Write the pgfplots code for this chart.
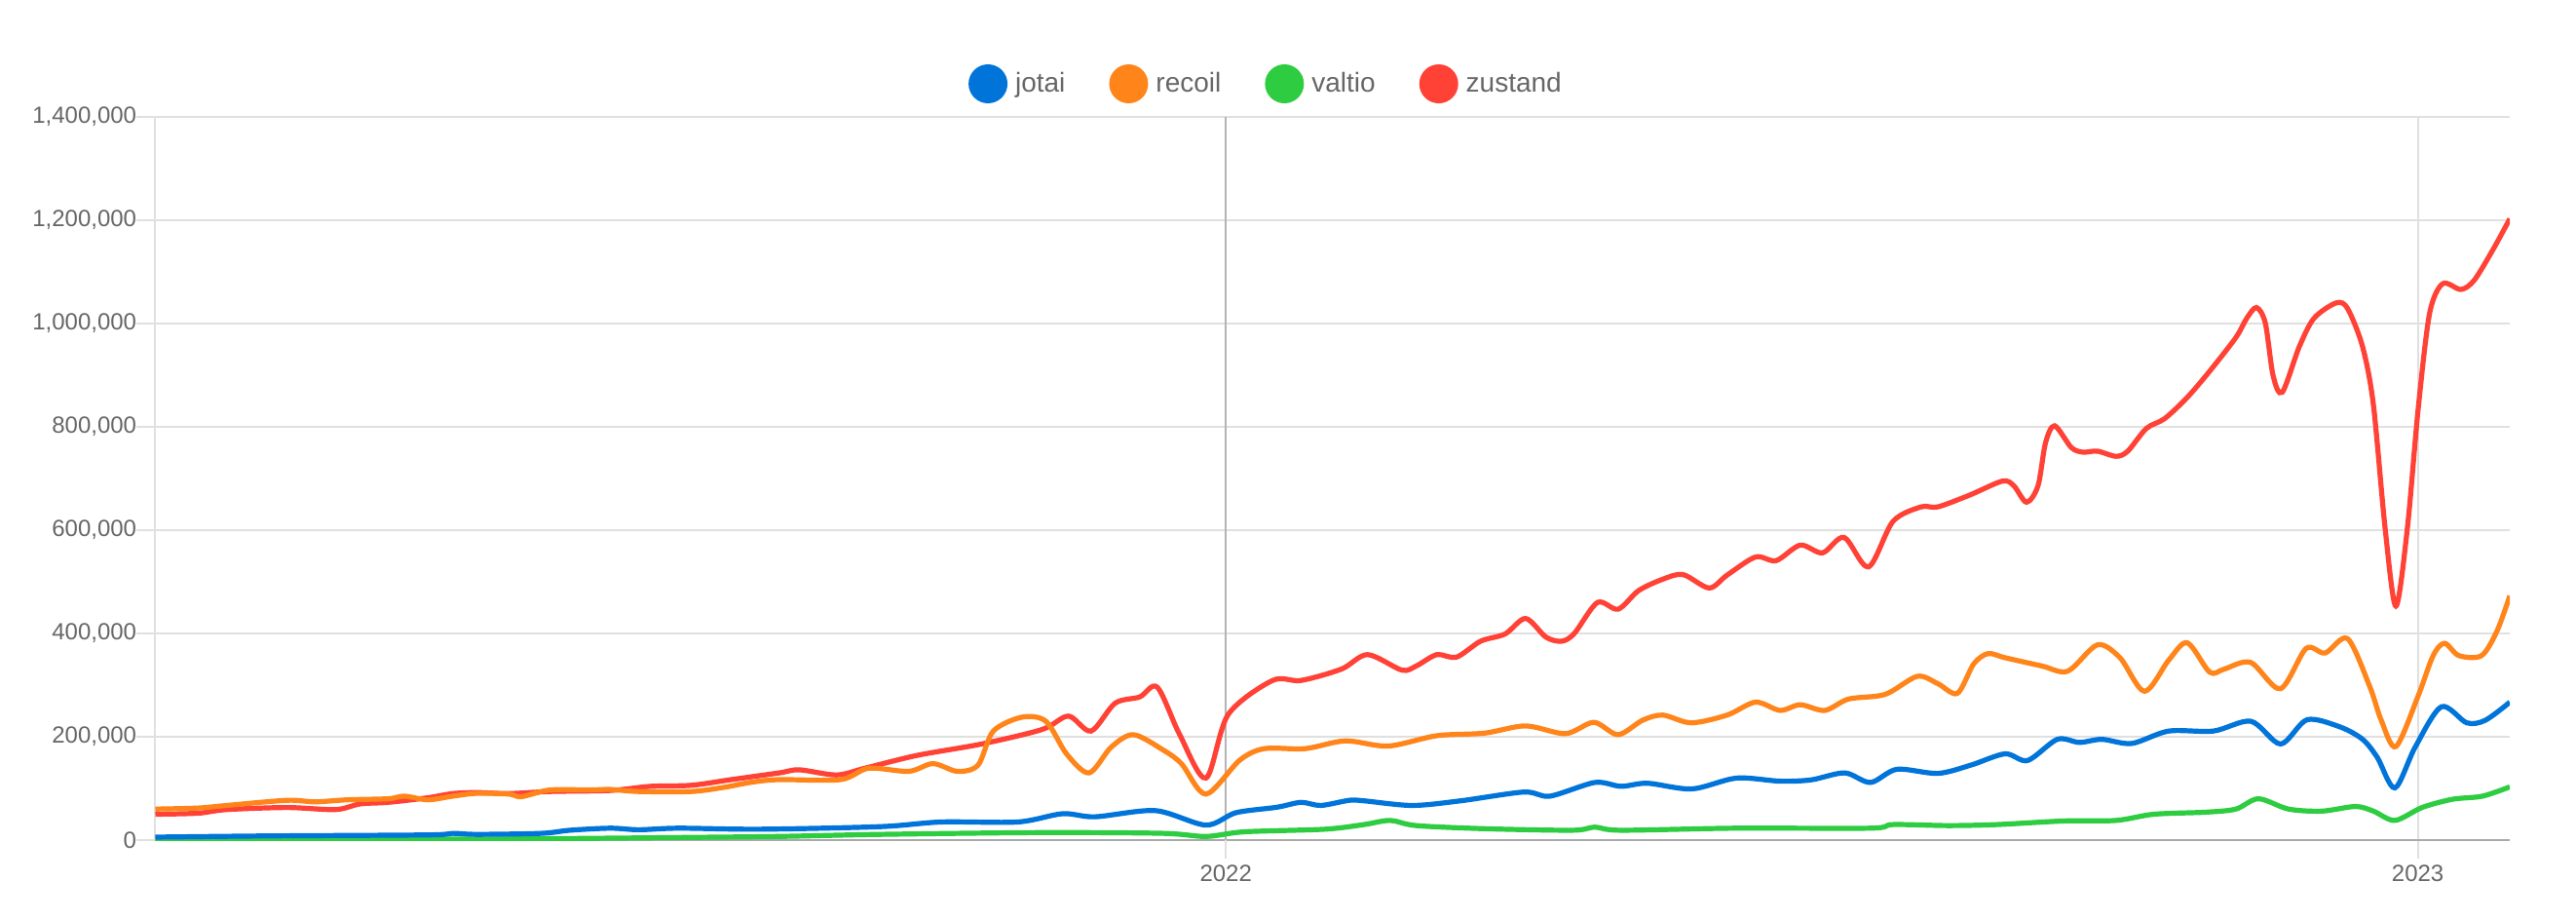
\documentclass[border=0pt]{standalone}
\usepackage{fontspec}
\setmainfont{Liberation Sans}
\usepackage{pgfplots}
\pgfplotsset{compat=1.18}
\definecolor{jblue}{HTML}{0074D9}
\definecolor{rorange}{HTML}{FF851B}
\definecolor{vgreen}{HTML}{2ECC40}
\definecolor{zred}{HTML}{FF4136}
\definecolor{gridc}{HTML}{E0E0E0}
\definecolor{zeroc}{HTML}{AAAAAA}
\definecolor{txt}{HTML}{666666}
\definecolor{linetw}{HTML}{B4B4B4}
\begin{document}
\begin{tikzpicture}
\useasboundingbox (-79.75pt,-40pt) rectangle (1242.25pt,431pt);
\begin{axis}[
  at={(0pt,0pt)}, anchor=south west,
  scale only axis, width=1208.25pt, height=371pt,
  xmin=-327.8, xmax=393.2, ymin=0, ymax=1400,
  axis lines*=left, axis line style={-},
  x axis line style={draw=zeroc, line width=1.2pt},
  y axis line style={draw=gridc, line width=1pt},
  xtick={365}, xticklabels={2023},
  extra x ticks={0}, extra x tick labels={2022},
  extra x tick style={grid style={draw=linetw, line width=1pt}},
  ytick={0,200,...,1400},
  yticklabels={0,{200,000},{400,000},{600,000},{800,000},{1,000,000},{1,200,000},{1,400,000}},
  grid=major, grid style={draw=gridc, line width=1pt},
  tick align=outside, major tick length=9.5pt,
  tick style={draw=gridc, line width=1pt},
  ticklabel style={font=\fontsize{12pt}{14pt}\selectfont, text=txt},
  yticklabel style={inner sep=0pt},
  xticklabel style={inner sep=0pt, yshift=-3pt},
  legend columns=4,
  legend style={at={(0.4713,1.0458)}, anchor=center, draw=none, fill=none,
    inner sep=0pt, font=\fontsize{14pt}{16pt}\selectfont, text=txt,
    nodes={inner sep=0pt},
    /tikz/every odd column/.append style={column sep=4pt},
    /tikz/every even column/.append style={column sep=22.5pt}},
  legend image code/.code={\fill[#1, draw=none] (0pt,0pt) circle (10pt);},
  every axis plot/.append style={line width=2.6pt, smooth, tension=0.5, mark=none},
]
\addlegendimage{color=jblue}\addlegendentry{jotai}
\addlegendimage{color=rorange}\addlegendentry{recoil}
\addlegendimage{color=vgreen}\addlegendentry{valtio}
\addlegendimage{color=zred}\addlegendentry{zustand}

% zustand
\addplot[color=zred, forget plot] coordinates {
(-327.8,50) (-314.7,52) (-306.0,59) (-287.5,63) (-272.6,59) (-265.1,70) (-256.5,73) (-244.3,82) (-236.8,90) (-229.3,92) (-219.5,90) (-207.0,94) (-188.5,96) (-176.2,104) (-163.7,106) (-151.5,117) (-136.8,130) (-130.6,136) (-119.2,126) (-110.6,139) (-94.5,164) (-74.8,186) (-56.3,214) (-48.2,240) (-41.3,211) (-33.9,265) (-26.4,277) (-21.0,296) (-14.2,205) (-6.1,120) (0.7,243) (14.3,309) (23.0,309) (35.4,331) (43.4,359) (53.9,329) (58.3,337) (64.6,359) (70.6,354) (78.0,385) (85.5,399) (91.8,429) (98.0,393) (102.8,385) (106.7,400) (113.8,460) (120.1,447) (126.4,483) (133.8,505) (140.0,514) (148.0,488) (153.5,513) (162.2,548) (168.5,541) (175.9,571) (182.7,556) (189.3,586) (196.8,529) (204.3,617) (212.9,645) (218.0,645) (227.8,668) (237.8,695) (241.3,686) (245.2,654) (248.7,686) (251.0,769) (253.8,802) (258.9,760) (262.5,751) (266.9,753) (272.6,743) (276.2,753) (281.9,797) (287.5,816) (294.4,857) (301.3,908) (309.3,973) (312.6,1010) (315.6,1031) (318.3,1001) (320.7,899) (323.5,867) (328.7,955) (333.2,1010) (340.0,1040) (343.5,1029) (348.1,955) (351.4,843) (355.0,603) (358.3,453) (361.8,603) (365.1,834) (368.6,1019) (372.6,1077) (378.2,1066) (382.3,1084) (388.1,1144) (393.2,1203)
};
% valtio
\addplot[color=vgreen, forget plot] coordinates {
(-327.8,1) (-229.3,2) (-200.9,3) (-166.7,5) (-136.8,7) (-105.8,11) (-56.3,14.5) (-19.2,13) (-6.1,7) (5.7,16) (30.3,21) (42.3,30) (50.3,38) (58.3,28) (79.2,22) (106.1,19) (113.0,25) (121.0,19) (156.2,23) (197.4,23) (204.3,30) (221.3,28) (236.2,30) (256.8,37) (272.6,38) (284.2,50) (300.2,54) (309.3,60) (316.2,80) (325.4,60) (335.6,56) (345.9,65) (351.4,56) (358.0,38) (366.3,63) (375.6,79) (384.8,85) (393.2,103)
};
% recoil
\addplot[color=rorange, forget plot] coordinates {
(-327.8,60) (-314.7,62) (-306.0,67) (-287.5,77) (-278.9,74) (-268.9,78) (-256.5,80) (-251.6,85) (-244.3,78) (-236.8,85) (-229.3,90.5) (-219.5,89) (-215.7,84) (-207.0,97) (-194.7,97) (-188.5,98) (-179.8,94) (-163.7,94) (-153.8,102) (-145.2,112) (-136.8,117) (-118.0,117) (-109.4,139) (-97.1,133) (-89.7,148) (-82.2,133) (-75.9,145) (-71.2,211) (-62.4,238) (-55.1,230) (-48.8,167) (-41.9,130) (-35.1,180) (-28.3,204) (-19.1,174) (-13.6,148) (-6.1,89) (4.3,155) (11.8,177) (24.3,177) (36.6,192) (49.7,182) (64.6,202) (79.2,207) (91.8,221) (104.0,206) (112.7,228) (120.1,204) (127.6,232) (133.8,242) (142.5,227) (153.5,242) (162.2,267) (169.7,251) (175.9,262) (183.4,251) (190.7,273) (201.9,282) (211.7,317) (218.0,303) (224.0,284) (229.0,341) (233.4,361) (238.6,353) (249.9,337) (257.8,327) (266.9,378) (273.8,353) (281.3,288) (288.7,348) (294.4,382) (301.3,325) (305.7,331) (313.8,344) (322.9,293) (330.8,371) (336.6,362) (343.5,390) (350.3,297) (353.8,232) (358.3,181) (365.1,279) (369.7,357) (373.2,381) (377.6,357) (384.5,357) (389.2,404) (393.2,473)
};
% jotai
\addplot[color=jblue, forget plot] coordinates {
(-327.8,5.7) (-293.8,8) (-244.3,10) (-236.8,13) (-229.3,11) (-209.6,13) (-200.9,19) (-188.5,23) (-179.8,20) (-167.5,23) (-142.8,21) (-105.8,26) (-87.1,35) (-63.7,35) (-50.0,51) (-40.1,45) (-21.6,57) (-6.1,29) (3.1,53) (15.6,63.5) (23.0,73) (29.1,67) (37.8,77) (42.3,76) (57.1,67) (71.9,76) (91.3,93) (99.2,85) (113.0,111.5) (121.0,104) (129.1,110) (142.7,99) (156.4,120) (169.7,114) (179.2,116.5) (189.5,130) (197.4,111.5) (205.5,137) (218.0,129) (228.1,145) (238.6,167) (245.5,154) (254.6,195) (261.4,189) (268.3,195) (277.4,187) (288.7,211) (302.4,211) (313.9,230) (323.0,186) (331.1,233) (341.2,219) (348.1,195) (352.6,160) (358.0,101) (364.2,180) (372.2,258) (380.0,227) (385.7,232) (393.2,267)
};
\end{axis}
\end{tikzpicture}
\end{document}
